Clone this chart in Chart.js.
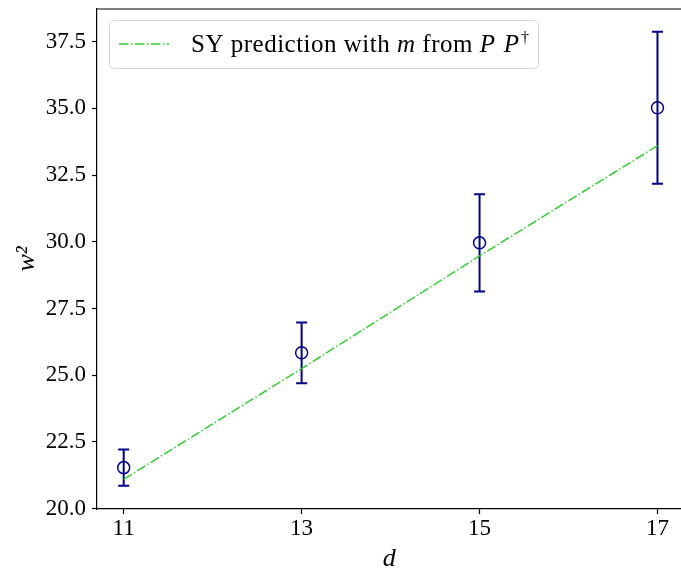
<!DOCTYPE html>
<html>
<head>
<meta charset="utf-8">
<script src="https://cdn.jsdelivr.net/npm/chart.js@4.4.1/dist/chart.umd.min.js"></script>
<style>
    html, body { margin: 0; padding: 0; background: #fff; overflow: hidden; }
    #box { width: 689px; height: 568px; }
</style>
</head>
<body>
<div id="box"><canvas id="wChart"></canvas></div>
<script>
// measured points
var dValues = [11, 13, 15, 17];
var w2Values = [21.54, 25.84, 29.96, 35.02];
var w2Errors = [0.68, 1.14, 1.82, 2.85];

// SY prediction
var predD = [11, 13, 15, 17];
var predW2 = [21.1, 25.25, 29.47, 33.6];

var xTicks = [11, 13, 15, 17];
var yTicks = [20.0, 22.5, 25.0, 27.5, 30.0, 32.5, 35.0, 37.5];

var serif = "'Liberation Serif', 'DejaVu Serif', serif";
var navy = '#00008b';
var green = '#32cd32';

function toPoints(xs, ys) {
    var pts = [];
    for (var i = 0; i < xs.length; i++) {
        pts.push({ x: xs[i], y: ys[i] });
    }
    return pts;
}

// vertical error bars with caps, drawn through the chart scales
var errorBarPlugin = {
    id: 'errorBars',
    beforeDatasetsDraw: function (chart) {
        var ctx = chart.ctx;
        var xs = chart.scales.x, ys = chart.scales.y;
        ctx.save();
        ctx.strokeStyle = navy;
        ctx.lineWidth = 2;
        for (var i = 0; i < dValues.length; i++) {
            var px = xs.getPixelForValue(dValues[i]);
            var top = ys.getPixelForValue(w2Values[i] + w2Errors[i]);
            var bot = ys.getPixelForValue(w2Values[i] - w2Errors[i]);
            ctx.beginPath();
            ctx.moveTo(px, top); ctx.lineTo(px, bot);
            ctx.moveTo(px - 5.5, top); ctx.lineTo(px + 5.5, top);
            ctx.moveTo(px - 5.5, bot); ctx.lineTo(px + 5.5, bot);
            ctx.stroke();
        }
        ctx.restore();
    }
};

// top spine + legend box with mixed italic text
var framePlugin = {
    id: 'frame',
    afterDraw: function (chart) {
        var ctx = chart.ctx;
        var area = chart.chartArea;
        ctx.save();
        ctx.strokeStyle = '#000';
        ctx.lineWidth = 1.2;
        ctx.beginPath();
        ctx.moveTo(area.left, area.top);
        ctx.lineTo(area.right, area.top);
        ctx.stroke();

        // legend
        var bx = area.left + 12, by = area.top + 11, bw = 429, bh = 48;
        ctx.fillStyle = 'rgba(255,255,255,0.8)';
        ctx.strokeStyle = '#d5d5d5';
        ctx.lineWidth = 1;
        ctx.beginPath();
        ctx.roundRect(bx + 0.5, by + 0.5, bw, bh, 4);
        ctx.fill();
        ctx.stroke();

        var cy = by + bh / 2;
        ctx.strokeStyle = green;
        ctx.lineWidth = 1.5;
        ctx.setLineDash([9.6, 2.4, 1.5, 2.4]);
        ctx.beginPath();
        ctx.moveTo(bx + 10, cy);
        ctx.lineTo(bx + 60, cy);
        ctx.stroke();
        ctx.setLineDash([]);

        var parts = [
            { t: 'SY prediction with ', f: '25px ' + serif },
            { t: 'm', f: 'italic 25px ' + serif },
            { t: ' from ', f: '25px ' + serif },
            { t: 'P', f: 'italic 25px ' + serif },
            { t: ' ', f: '25px ' + serif },
            { t: 'P', f: 'italic 25px ' + serif },
            { t: '\u2020', f: '16px ' + serif, sup: true }
        ];
        var tx = bx + 82;
        ctx.fillStyle = '#000';
        ctx.textBaseline = 'alphabetic';
        ctx.textAlign = 'left';
        ctx.letterSpacing = '0.5px';
        for (var i = 0; i < parts.length; i++) {
            ctx.font = parts[i].f;
            ctx.fillText(parts[i].t, tx, cy + (parts[i].sup ? -1 : 8));
            tx += ctx.measureText(parts[i].t).width + (parts[i].t === 'P' ? 1.5 : 0);
        }
        ctx.restore();
    }
};

var wCtx = document.getElementById('wChart').getContext('2d');
var wChart = new Chart(wCtx, {
    type: 'scatter',
    data: {
        datasets: [
            {
                label: 'measured',
                data: toPoints(dValues, w2Values),
                showLine: false,
                pointStyle: 'circle',
                pointRadius: 6,
                pointBorderWidth: 1.5,
                pointBorderColor: navy,
                pointBackgroundColor: 'rgba(0,0,0,0)',
                order: 0
            },
            {
                label: 'SY prediction',
                data: toPoints(predD, predW2),
                showLine: true,
                borderColor: green,
                borderWidth: 1.5,
                borderDash: [9.6, 2.4, 1.5, 2.4],
                pointRadius: 0,
                fill: false,
                order: 1
            }
        ]
    },
    options: {
        responsive: true,
        maintainAspectRatio: false,
        animation: false,
        layout: { padding: { top: 9, right: 0, left: 0, bottom: 0 } },
        plugins: {
            legend: { display: false },
            tooltip: { enabled: false }
        },
        scales: {
            x: {
                type: 'linear',
                min: 10.7,
                max: 17.27,
                afterBuildTicks: function (scale) {
                    scale.ticks = xTicks.map(function (v) { return { value: v }; });
                },
                afterFit: function (scale) {
                    scale.height = 59;
                    scale.paddingLeft = 0;
                    scale.paddingRight = 0;
                },
                ticks: {
                    color: '#000',
                    padding: 1,
                    font: { family: serif, size: 23 },
                    callback: function (v) { return String(v); }
                },
                grid: { drawOnChartArea: false, drawTicks: true, tickLength: 5, color: '#000', tickWidth: 1.2 },
                border: { display: true, color: '#000', width: 1.2 },
                title: {
                    display: true,
                    text: 'd',
                    color: '#000',
                    padding: { top: 0, bottom: -4 },
                    font: { family: serif, size: 26, style: 'italic', lineHeight: 1 }
                }
            },
            y: {
                type: 'linear',
                min: 19.99,
                max: 38.72,
                afterBuildTicks: function (scale) {
                    scale.ticks = yTicks.map(function (v) { return { value: v }; });
                },
                afterFit: function (scale) {
                    scale.width = 97;
                    scale.paddingTop = 0;
                    scale.paddingBottom = 0;
                },
                ticks: {
                    color: '#000',
                    padding: 6,
                    font: { family: serif, size: 23 },
                    callback: function (v) { return v.toFixed(1); }
                },
                grid: { drawOnChartArea: false, drawTicks: true, tickLength: 5, color: '#000', tickWidth: 1.2 },
                border: { display: true, color: '#000', width: 1.2 },
                title: {
                    display: true,
                    text: 'w\u00b2',
                    color: '#000',
                    padding: { top: 14, bottom: 0 },
                    font: { family: serif, size: 26, style: 'italic', lineHeight: 1 }
                }
            }
        }
    },
    plugins: [errorBarPlugin, framePlugin]
});
</script>
</body>
</html>
